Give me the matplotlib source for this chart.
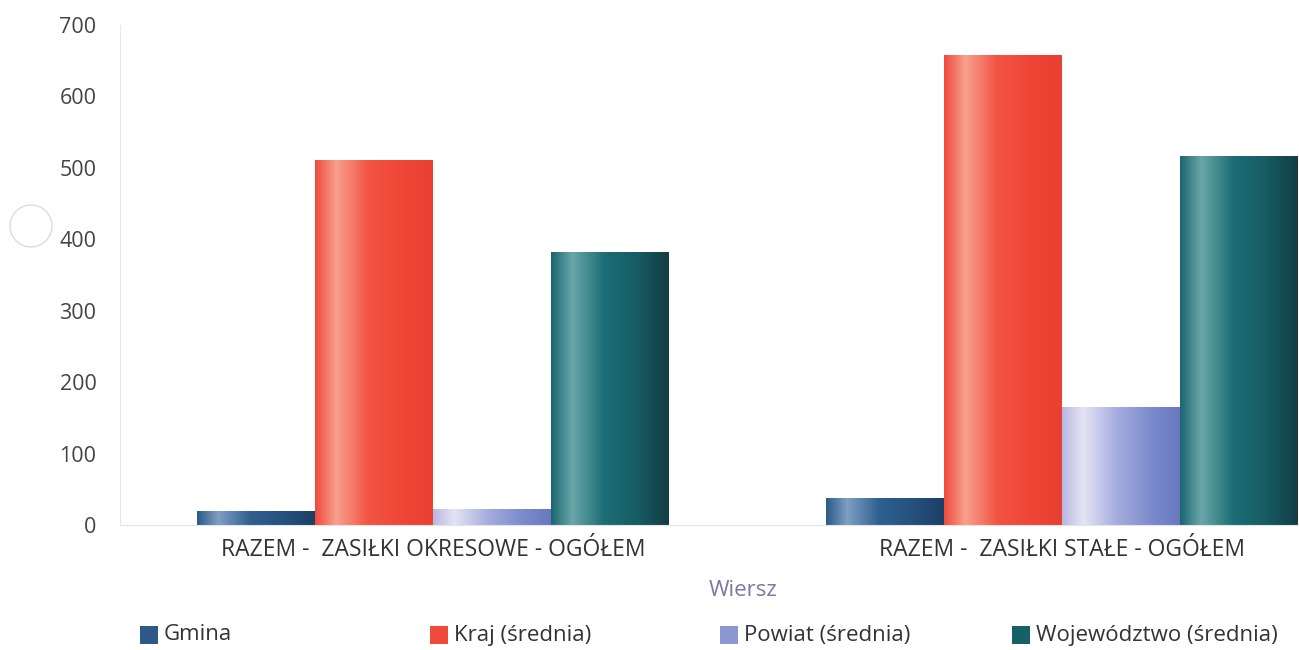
import numpy as np
import matplotlib
matplotlib.use("Agg")
import matplotlib.pyplot as plt
from matplotlib.colors import LinearSegmentedColormap
from matplotlib.patches import Rectangle, Ellipse

categories = ["RAZEM -  ZASIŁKI OKRESOWE - OGÓŁEM", "RAZEM -  ZASIŁKI STAŁE - OGÓŁEM"]
series = ["Gmina", "Kraj (średnia)", "Powiat (średnia)", "Województwo (średnia)"]
gmina = [20, 38]
kraj = [511, 658]
powiat = [22, 165]
wojewodztwo = [382, 517]
values = [gmina, kraj, powiat, wojewodztwo]

# gradient stops across each bar (left -> right), gives the cylinder look
stops = [
    ["#2a5a86", "#7f9fc4", "#2f6090", "#24507c", "#1d3f66"],
    ["#ee4a3c", "#f9a08e", "#f25444", "#ef4536", "#e84032"],
    ["#b8b8e0", "#e4e4f4", "#a8aee0", "#7d8ccc", "#6878c0"],
    ["#1a6670", "#6aa6a8", "#1c6e76", "#175a62", "#133c44"],
]
legend_colors = ["#2b5a88", "#f04a3a", "#8c96d0", "#186068"]

plt.rcParams["font.family"] = ["Open Sans", "DejaVu Sans"]

fig = plt.figure(figsize=(12.99, 6.5), dpi=100)
ax = fig.add_axes([120 / 1299, 125 / 650, 1179 / 1299, 500 / 650])

x = np.arange(len(categories))
w = 0.1875
grad = np.linspace(0, 1, 256).reshape(1, -1)
for i, (name, vals) in enumerate(zip(series, values)):
    cmap = LinearSegmentedColormap.from_list(name, list(zip([0, 0.18, 0.45, 0.75, 1.0], stops[i])))
    bars = ax.bar(x + (i - 1.5) * w, vals, w, color=legend_colors[i], linewidth=0, label=name)
    for b in bars:
        x0, y0 = b.get_x(), b.get_y()
        im = ax.imshow(grad, cmap=cmap, aspect="auto",
                       extent=[x0, x0 + b.get_width(), y0, y0 + b.get_height()], zorder=2)
        im.set_clip_path(b)

ax.set_xlim(-0.4976, 1.377)
ax.set_ylim(0, 700)
ax.set_yticks(range(0, 701, 100))
ax.set_xticks(x)
ax.set_xticklabels(categories)
ax.tick_params(axis="y", length=0, pad=17, labelsize=15.5, labelcolor="#444444")
ax.tick_params(axis="x", length=0, pad=9, labelsize=16.5, labelcolor="#333333")
for s in ["top", "right"]:
    ax.spines[s].set_visible(False)
ax.spines["left"].set_color("#e8e8e8")
ax.spines["bottom"].set_color("#e4e4e4")

fig.text(743 / 1299, 1 - 590 / 650, "Wiersz", ha="center", va="center",
         fontsize=16, color="#7b78a6")

# legend, laid out by hand to match the spacing of the original
leg_x = [140, 430, 720, 1012]
leg_y = 635
for name, col, lx in zip(series, legend_colors, leg_x):
    fig.patches.append(Rectangle((lx / 1299, 1 - (leg_y + 9) / 650), 18 / 1299, 18 / 650,
                                 transform=fig.transFigure, facecolor=col, edgecolor="none",
                                 figure=fig))
    fig.text((lx + 24) / 1299, 1 - leg_y / 650, name, ha="left", va="center",
             fontsize=16, color="#333333")

# faint circle at left edge of the scan
fig.patches.append(Ellipse((31 / 1299, 1 - 226 / 650), 42 / 1299, 42 / 650,
                           transform=fig.transFigure, fill=False, edgecolor="#dcdcdc",
                           linewidth=1, figure=fig))

fig.savefig("out.png", dpi=100)
